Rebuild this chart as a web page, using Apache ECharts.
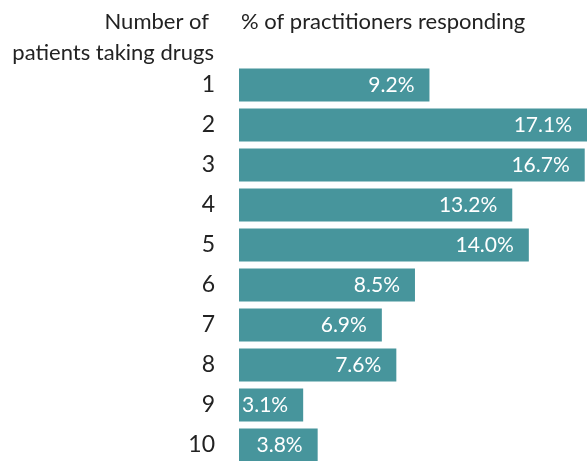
<!DOCTYPE html>
<html>
<head>
<meta charset="utf-8">
<script src="https://cdn.jsdelivr.net/npm/echarts@6/dist/echarts.min.js"></script>
<style>html,body{margin:0;padding:0;background:#fff;overflow:hidden}#c{width:587px;height:465px}</style>
</head>
<body>
<div id="c"></div>
<script>
const categories = ['1','2','3','4','5','6','7','8','9','10'];
const values = [9.2, 17.1, 16.7, 13.2, 14.0, 8.5, 6.9, 7.6, 3.1, 3.8];
const yTitleLines = ['Number of', 'patients taking drugs'];
const xTitle = '% of practitioners responding';

const FONT = 'Lato, "Open Sans", sans-serif';
const chart = echarts.init(document.getElementById('c'));
chart.setOption({
  animation: false,
  grid: { left: 239, top: 65, right: 0, bottom: 0 },
  xAxis: { type: 'value', min: 0, max: 16.81, show: false },
  yAxis: {
    type: 'category', data: categories, inverse: true,
    axisLine: { show: false }, axisTick: { show: false }, splitLine: { show: false },
    axisLabel: { fontSize: 23, color: '#222', margin: 24, fontFamily: FONT }
  },
  graphic: [
    { type: 'text', x: 209, y: 11, style: { text: yTitleLines[0], textAlign: 'right', fontSize: 22, fill: '#222', fontFamily: FONT } },
    { type: 'text', x: 214, y: 42, style: { text: yTitleLines[1], textAlign: 'right', fontSize: 22, fill: '#222', fontFamily: FONT } },
    { type: 'text', x: 241, y: 11, style: { text: xTitle, textAlign: 'left', fontSize: 22, fill: '#222', fontFamily: FONT } }
  ],
  series: [{
    type: 'bar', data: values, barWidth: 33, clip: true,
    itemStyle: { color: '#47959c' },
    label: {
      show: true, position: 'insideRight', distance: 15, color: '#fff', fontSize: 21, fontFamily: FONT,
      formatter: p => p.value.toFixed(1) + '%'
    }
  }]
});
</script>
</body>
</html>
